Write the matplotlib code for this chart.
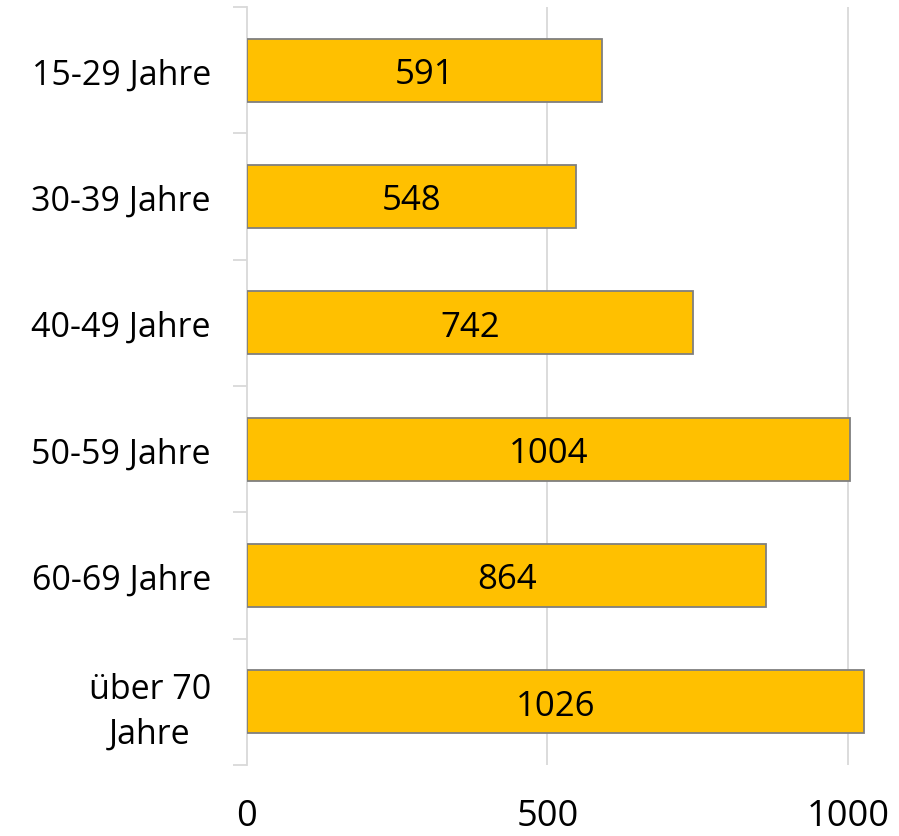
import matplotlib.pyplot as plt

categories = ["15-29 Jahre", "30-39 Jahre", "40-49 Jahre", "50-59 Jahre",
              "60-69 Jahre", "über 70\nJahre"]
values = [591, 548, 742, 1004, 864, 1026]
xticks = [0, 500, 1000]

plt.rcParams["font.family"] = ["Open Sans", "DejaVu Sans"]

fig = plt.figure(figsize=(8.99, 8.37), dpi=100)
ax = fig.add_axes([247 / 899, 1 - 766 / 837, 640 / 899, 758 / 837])

pos = list(range(len(categories)))
bars = ax.barh(pos, values, height=0.5, color="#FFC000",
               edgecolor="#7F7F7F", linewidth=1.3, zorder=3)
for b, v in zip(bars, values):
    ax.text(v / 2, b.get_y() + b.get_height() / 2 + 0.03, str(v),
            ha="center", va="center", fontsize=25, color="black", zorder=4)

ax.set_ylim(len(categories) - 0.5, -0.5)
ax.set_xlim(0, 1065)
ax.set_yticks(pos)
ax.set_yticklabels(categories, fontsize=24.5)
for lbl in ax.get_yticklabels():
    lbl.set_multialignment("center")
    lbl.set_linespacing(1.4)
ax.set_yticks([p - 0.5 for p in pos] + [len(categories) - 0.5], minor=True)
ax.tick_params(axis="y", which="major", length=0, pad=26)
ax.tick_params(axis="y", which="minor", length=10, color="#D9D9D9", width=1.3)

ax.set_xticks(xticks)
ax.set_xticklabels([str(t) for t in xticks], fontsize=26)
ax.tick_params(axis="x", length=0, pad=24)
for t in xticks[1:]:
    ax.axvline(t, color="#D9D9D9", linewidth=1.3, zorder=1)

for s in ["top", "right", "bottom"]:
    ax.spines[s].set_visible(False)
ax.spines["left"].set_color("#D9D9D9")
ax.spines["left"].set_linewidth(1.3)

fig.savefig("out.png", dpi=100)
